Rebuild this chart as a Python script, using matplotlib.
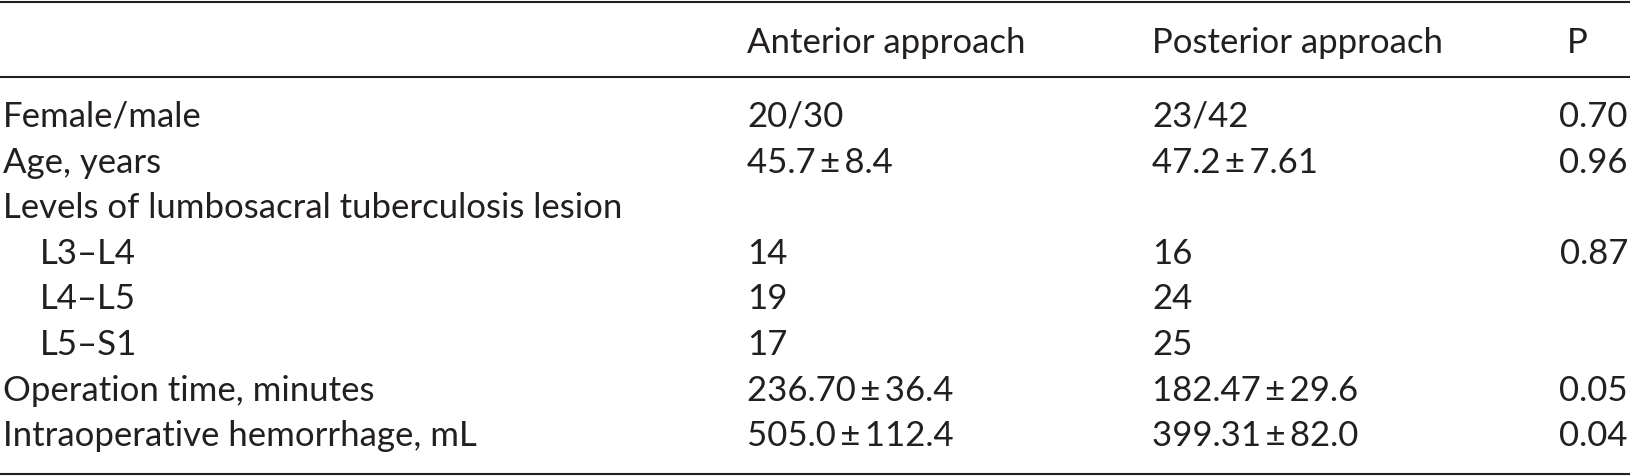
import matplotlib.pyplot as plt

plt.rcParams['font.family'] = ['Lato', 'DejaVu Sans']

header = ["", "Anterior approach", "Posterior approach", "P"]
row_labels = [
    "Female/male",
    "Age, years",
    "Levels of lumbosacral tuberculosis lesion",
    "L3\u2013L4",
    "L4\u2013L5",
    "L5\u2013S1",
    "Operation time, minutes",
    "Intraoperative hemorrhage, mL",
]
indented = [False, False, False, True, True, True, False, False]
anterior = ["20/30", "45.7\u2009\u00b1\u20098.4", "", "14", "19", "17",
            "236.70\u2009\u00b1\u200936.4", "505.0\u2009\u00b1\u2009112.4"]
posterior = ["23/42", "47.2\u2009\u00b1\u20097.61", "", "16", "24", "25",
             "182.47\u2009\u00b1\u200929.6", "399.31\u2009\u00b1\u200982.0"]
p_values = ["0.70", "0.96", "", "0.87", "", "", "0.05", "0.04"]

W, H = 1631, 476
fig = plt.figure(figsize=(W / 100, H / 100), dpi=100)
ax = fig.add_axes([0, 0, 1, 1])
ax.set_xlim(0, W)
ax.set_ylim(H, 0)
ax.axis("off")

fs = 25
col_x = [3, 747, 1152, 1567]
p_right = 1628
indent = 37
color = "#231f20"

# rules
for y in (2, 77, 474):
    ax.plot([0, W], [y, y], color=color, lw=1.5, solid_capstyle="butt")

# header
for x, h in zip(col_x, header):
    ax.text(x, 53, h, fontsize=fs, color=color, va="baseline", ha="left")

y0, dy = 127, 45.6
for i, lab in enumerate(row_labels):
    y = y0 + i * dy
    x = col_x[0] + (indent if indented[i] else 0)
    ax.text(x, y, lab, fontsize=fs, color=color, va="baseline", ha="left")
    ax.text(col_x[1], y, anterior[i], fontsize=fs, color=color, va="baseline")
    ax.text(col_x[2], y, posterior[i], fontsize=fs, color=color, va="baseline")
    ax.text(p_right, y, p_values[i], fontsize=fs, color=color,
            va="baseline", ha="right")

fig.savefig("out.png", dpi=100)
